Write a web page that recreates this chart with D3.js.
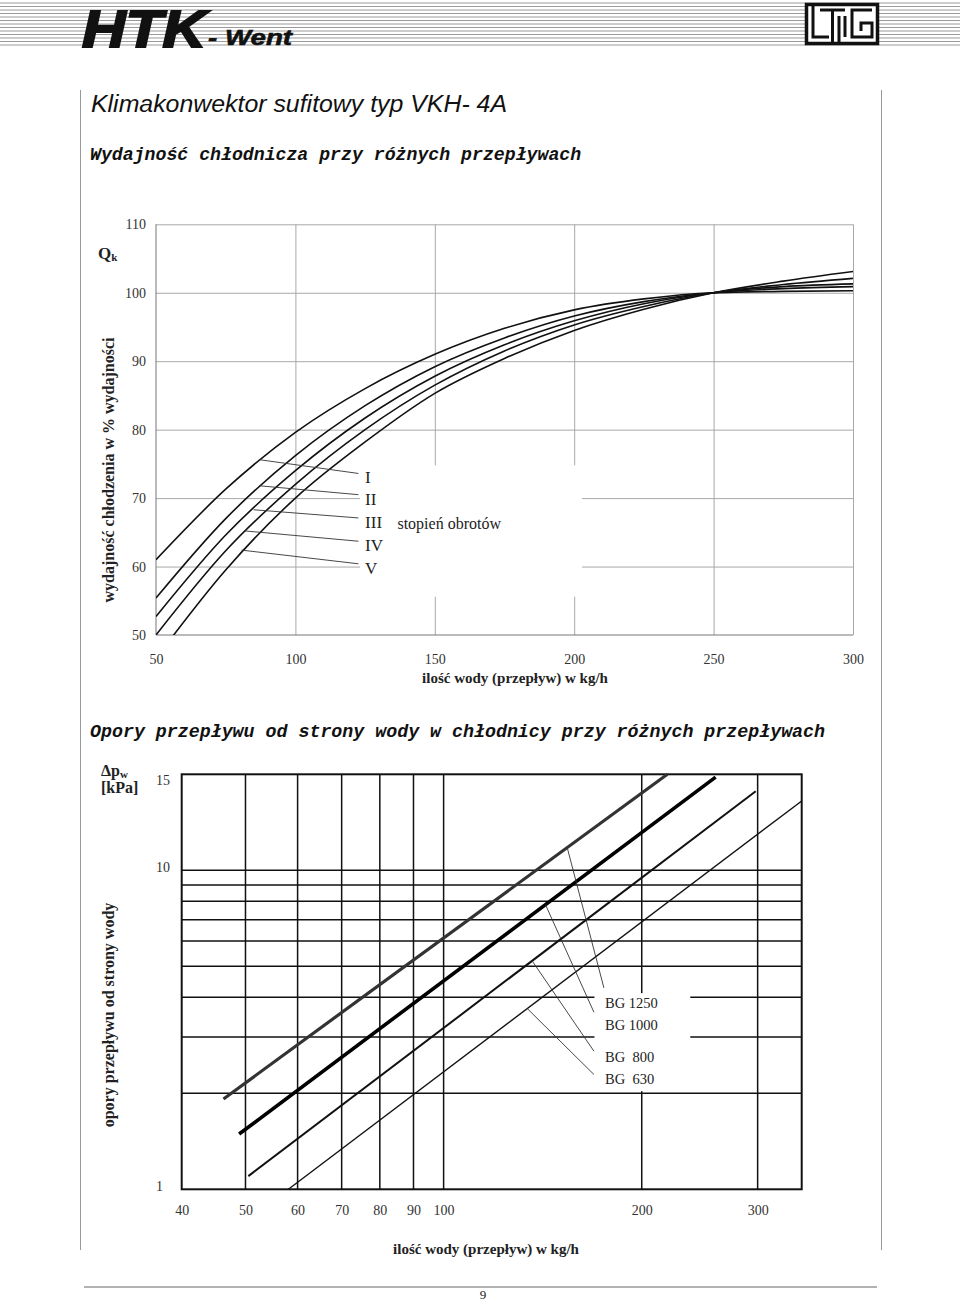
<!DOCTYPE html>
<html><head><meta charset="utf-8">
<script src="https://cdn.jsdelivr.net/npm/d3@7"></script>
<style>body{margin:0;background:#fff}svg{display:block}</style>
</head><body>
<svg id="c" width="960" height="1302"></svg>
<script>
// ---------- DATA: top chart (cooling capacity vs water flow) ----------
const flowTop = [50, 75, 100, 125, 150, 175, 200, 225, 250, 275, 300];
const speedNames = ["I", "II", "III", "IV", "V"];
const capI   = [61.0, 71.3, 79.6, 86.0, 91.0, 94.8, 97.5, 99.1, 100, 100.2, 100.3];
const capII  = [55.4, 67.0, 76.2, 83.5, 89.2, 93.4, 96.6, 98.7, 100, 100.6, 100.9];
const capIII = [52.7, 64.6, 74.0, 81.7, 87.8, 92.4, 95.9, 98.4, 100, 100.9, 101.3];
const capIV  = [50.0, 62.3, 72.0, 80.0, 86.5, 91.5, 95.3, 98.0, 100, 101.2, 102.1];
const capV   = [46.6, 59.5, 70.0, 78.2, 85.3, 90.4, 94.5, 97.6, 100, 101.7, 103.1];
const topXTicks = [50, 100, 150, 200, 250, 300];
const topYTicks = [50, 60, 70, 80, 90, 100, 110];
// annotation leader anchors (flow, capacity) on each curve
const speedAnchorFlow = [87.3, 87.0, 85.0, 82.0, 80.7];
const speedAnchorCap  = [75.6, 71.8, 68.3, 65.2, 62.4];
const speedLeaderEndCap = [73.6, 70.5, 67.1, 63.7, 60.4];

// ---------- DATA: bottom chart (pressure drop vs water flow, log-log) ----------
const bgNames = ["BG 1250", "BG 1000", "BG  800", "BG  630"];
const bgFlowStart = [46.3, 48.9, 50.5, 58.1];
const bgFlowEnd   = [218.8, 259.0, 298.0, 350.0];
const bgDpStart   = [1.92, 1.49, 1.10, 1.00];
const bgDpEnd     = [20.0, 19.6, 17.7, 16.5];
const bgLeaderFlow = [154.1, 142.8, 136.3, 134.0];
const botXTicks = [40, 50, 60, 70, 80, 90, 100, 200, 300];
const botYTickValues = [1, 10, 20];
const botYTickLabels = ["1", "10", "15"];
const botYGrid = [2, 3, 4, 5, 6, 7, 8, 9, 10];
const botXGrid = [50, 60, 70, 80, 90, 100, 200, 300];

// ---------- DRAWING ----------
const svg = d3.select("#c");
const SERIF = "'Liberation Serif','Times New Roman',serif";
const SANS = "'Liberation Sans',Arial,sans-serif";
const MONO = "'Liberation Mono','Courier New',monospace";

// header stripes
const stripes = d3.range(3, 48, 3.5);
svg.append("g").selectAll("line").data(stripes).join("line")
  .attr("x1", 0).attr("x2", 960).attr("y1", d => d).attr("y2", d => d)
  .attr("stroke", "#9a9a9a").attr("stroke-width", 1);

svg.append("text").attr("x", 82).attr("y", 47)
  .attr("font-family", SANS).attr("font-weight", 700).attr("font-style", "italic")
  .attr("font-size", 51).attr("textLength", 124).attr("lengthAdjust", "spacingAndGlyphs")
  .attr("fill", "#111").attr("stroke", "#111").attr("stroke-width", 2)
  .text("HTK");
svg.append("text").attr("x", 208).attr("y", 45)
  .attr("font-family", SANS).attr("font-weight", 700).attr("font-style", "italic")
  .attr("font-size", 22).attr("textLength", 84).attr("lengthAdjust", "spacingAndGlyphs")
  .attr("fill", "#111").attr("stroke", "#111").attr("stroke-width", 0.6)
  .text("- Went");

// logo (maze-like LTG)
const logo = svg.append("g");
logo.append("rect").attr("x", 806.5).attr("y", 4.5).attr("width", 71).attr("height", 39)
  .attr("fill", "#fff").attr("stroke", "#111").attr("stroke-width", 3.5);
const logoPaths = [
  "M813,4 V37 H829",
  "M820,10 H845",
  "M832.5,10 V44",
  "M839,16 V44",
  "M872,10 H852 V37 H872 V23 H861 V31",
  "M845,16 V37"
];
logo.selectAll("path").data(logoPaths).join("path").attr("d", d => d)
  .attr("fill", "none").attr("stroke", "#111").attr("stroke-width", 3);

// page frame
svg.append("line").attr("x1", 80.5).attr("x2", 80.5).attr("y1", 90).attr("y2", 1250).attr("stroke", "#999");
svg.append("line").attr("x1", 881.5).attr("x2", 881.5).attr("y1", 90).attr("y2", 1250).attr("stroke", "#999");
svg.append("line").attr("x1", 84).attr("x2", 877).attr("y1", 1287).attr("y2", 1287).attr("stroke", "#999").attr("stroke-width", 1.5);
svg.append("text").attr("x", 483).attr("y", 1299).attr("text-anchor", "middle")
  .attr("font-family", SERIF).attr("font-size", 13).attr("fill", "#222").text("9");

// titles
svg.append("text").attr("x", 91).attr("y", 112)
  .attr("font-family", "'Liberation Sans Narrow'," + SANS).attr("font-style", "italic")
  .attr("font-size", 23.5).attr("textLength", 416).attr("lengthAdjust", "spacingAndGlyphs")
  .attr("fill", "#111").text("Klimakonwektor sufitowy typ VKH- 4A");
svg.append("text").attr("x", 90).attr("y", 160)
  .attr("font-family", MONO).attr("font-style", "italic").attr("font-weight", 700)
  .attr("font-size", 18.2).attr("fill", "#111").text("Wydajność chłodnicza przy różnych przepływach");
svg.append("text").attr("x", 90).attr("y", 737)
  .attr("font-family", MONO).attr("font-style", "italic").attr("font-weight", 700)
  .attr("font-size", 18.3).attr("fill", "#111").text("Opory przepływu od strony wody w chłodnicy przy różnych przepływach");

// ---------- TOP CHART ----------
const xT = d3.scaleLinear().domain([50, 300]).range([156, 853]);
const yT = d3.scaleLinear().domain([50, 110]).range([635, 224.3]);
const gT = svg.append("g");

// grid
gT.append("g").attr("transform", `translate(0,${yT(50)})`)
  .call(d3.axisBottom(xT).tickValues(topXTicks.slice(1)).tickSize(-(yT(50) - yT(110))).tickFormat(""))
  .call(g => g.select(".domain").remove())
  .call(g => g.selectAll("line").attr("stroke", "#a8a8a8"));
gT.append("g").attr("transform", `translate(${xT(50)},0)`)
  .call(d3.axisLeft(yT).tickValues(topYTicks.slice(1)).tickSize(-(xT(300) - xT(50))).tickFormat(""))
  .call(g => g.select(".domain").remove())
  .call(g => g.selectAll("line").attr("stroke", "#a8a8a8"));
// axis lines
gT.append("line").attr("x1", xT(50)).attr("x2", xT(50)).attr("y1", yT(110)).attr("y2", yT(50)).attr("stroke", "#777");
gT.append("line").attr("x1", xT(50)).attr("x2", xT(300)).attr("y1", yT(50)).attr("y2", yT(50)).attr("stroke", "#777");

// tick labels
gT.append("g").attr("transform", `translate(0,${yT(50)})`)
  .call(d3.axisBottom(xT).tickValues(topXTicks).tickSize(0).tickPadding(19))
  .call(g => g.select(".domain").remove())
  .call(g => g.selectAll("text").attr("font-family", SERIF).attr("font-size", 14).attr("fill", "#333"));
gT.append("g").attr("transform", `translate(${xT(50)},0)`)
  .call(d3.axisLeft(yT).tickValues(topYTicks).tickSize(0).tickPadding(10))
  .call(g => g.select(".domain").remove())
  .call(g => g.selectAll("text").attr("font-family", SERIF).attr("font-size", 14).attr("fill", "#333"));

// legend box (white area in grid)
gT.append("rect").attr("x", xT(123.2)).attr("y", yT(74.8))
  .attr("width", xT(202.8) - xT(123.2)).attr("height", yT(55.6) - yT(74.8)).attr("fill", "#fff");

// curves
svg.append("clipPath").attr("id", "clipT").append("rect")
  .attr("x", xT(50)).attr("y", yT(110)).attr("width", xT(300) - xT(50)).attr("height", yT(50) - yT(110));
const capSeries = [capI, capII, capIII, capIV, capV];
const lineT = d3.line().x((d, i) => xT(flowTop[i])).y(d => yT(d)).curve(d3.curveMonotoneX);
gT.append("g").attr("clip-path", "url(#clipT)").selectAll("path").data(capSeries).join("path")
  .attr("d", d => lineT(d)).attr("fill", "none").attr("stroke", "#111").attr("stroke-width", 1.6);

// leaders and labels
speedNames.forEach((n, i) => {
  gT.append("line").attr("x1", xT(speedAnchorFlow[i])).attr("y1", yT(speedAnchorCap[i]))
    .attr("x2", xT(122.6)).attr("y2", yT(speedLeaderEndCap[i])).attr("stroke", "#333").attr("stroke-width", 0.9);
  gT.append("text").attr("x", xT(125)).attr("y", yT(speedLeaderEndCap[i]) + 10)
    .attr("font-family", SERIF).attr("font-size", 17).attr("fill", "#222").text(n);
});
gT.append("text").attr("x", xT(136.6)).attr("y", yT(66.4) + 6)
  .attr("font-family", SERIF).attr("font-size", 16).attr("fill", "#222").text("stopień obrotów");

// axis titles
gT.append("text").attr("x", 98).attr("y", 259).attr("font-family", SERIF).attr("font-weight", 700)
  .attr("font-size", 17).attr("fill", "#222")
  .call(t => { t.append("tspan").text("Q"); t.append("tspan").attr("font-size", 11).attr("dy", 2).text("k"); });
gT.append("text").attr("transform", "translate(114,470) rotate(-90)").attr("text-anchor", "middle")
  .attr("font-family", SERIF).attr("font-weight", 700).attr("font-size", 16).attr("fill", "#222")
  .text("wydajność chłodzenia w % wydajności");
gT.append("text").attr("x", 515).attr("y", 683).attr("text-anchor", "middle")
  .attr("font-family", SERIF).attr("font-weight", 700).attr("font-size", 15).attr("fill", "#222")
  .text("ilość wody (przepływ) w kg/h");

// ---------- BOTTOM CHART ----------
const xB = d3.scaleLog().domain([40, 350]).range([181.7, 801.7]);
const yB = d3.scaleLog().domain([1, 20]).range([1189.3, 774.3]);
const gB = svg.append("g");

gB.append("g").selectAll("line").data(botXGrid).join("line")
  .attr("x1", d => xB(d)).attr("x2", d => xB(d)).attr("y1", yB(20)).attr("y2", yB(1))
  .attr("stroke", "#111").attr("stroke-width", 1.5);
gB.append("g").selectAll("line").data(botYGrid).join("line")
  .attr("x1", xB(40)).attr("x2", xB(350)).attr("y1", d => yB(d)).attr("y2", d => yB(d))
  .attr("stroke", "#111").attr("stroke-width", 1.5);
gB.append("rect").attr("x", xB(40)).attr("y", yB(20)).attr("width", xB(350) - xB(40)).attr("height", yB(1) - yB(20))
  .attr("fill", "none").attr("stroke", "#111").attr("stroke-width", 2);

// legend white box
gB.append("rect").attr("x", xB(169.5)).attr("y", yB(4.12))
  .attr("width", xB(237) - xB(169.5)).attr("height", yB(2.03) - yB(4.12)).attr("fill", "#fff");

// BG lines
const bgWidths = [3.2, 3.6, 2, 1.4];
const bgColors = ["#333", "#000", "#111", "#111"];
const lineB = d3.line().x(d => xB(d[0])).y(d => yB(d[1]));
bgNames.forEach((n, i) => {
  gB.append("path").attr("d", lineB([[bgFlowStart[i], bgDpStart[i]], [bgFlowEnd[i], bgDpEnd[i]]]))
    .attr("fill", "none").attr("stroke", bgColors[i]).attr("stroke-width", bgWidths[i]);
});

// leaders + labels
const bgLabelDp = [4.28, 3.59, 2.71, 2.29];
const bgLabelCenterY = [1002.7, 1025, 1056.7, 1079];
bgNames.forEach((n, i) => {
  const k = Math.log(bgDpEnd[i] / bgDpStart[i]) / Math.log(bgFlowEnd[i] / bgFlowStart[i]);
  const dpOnLine = bgDpStart[i] * Math.pow(bgLeaderFlow[i] / bgFlowStart[i], k);
  gB.append("line").attr("x1", xB(bgLeaderFlow[i])).attr("y1", yB(dpOnLine))
    .attr("x2", xB(i < 1 ? 175.2 : 169.2)).attr("y2", yB(bgLabelDp[i]))
    .attr("stroke", "#333").attr("stroke-width", 0.9);
  gB.append("text").attr("x", 605).attr("y", bgLabelCenterY[i] + 5)
    .attr("font-family", SERIF).attr("font-size", 14.5).attr("fill", "#222")
    .attr("xml:space", "preserve").style("white-space", "pre").text(n);
});

// tick labels
gB.append("g").attr("transform", `translate(0,${yB(1)})`)
  .call(d3.axisBottom(xB).tickValues(botXTicks).tickFormat(d3.format("d")).tickSize(0).tickPadding(15.5))
  .call(g => g.select(".domain").remove())
  .call(g => g.selectAll("text").attr("font-family", SERIF).attr("font-size", 14).attr("fill", "#333"));
gB.append("g").attr("transform", `translate(${xB(40)},0)`)
  .call(d3.axisLeft(yB).tickValues(botYTickValues).tickFormat((d, i) => botYTickLabels[i]).tickSize(0))
  .call(g => g.select(".domain").remove())
  .call(g => g.selectAll("text").attr("x", 156 - xB(40)).attr("text-anchor", "start")
    .attr("dy", (d, i) => i === 0 ? "0.05em" : (i === 2 ? "0.7em" : "0.1em"))
    .attr("font-family", SERIF).attr("font-size", 14).attr("fill", "#333"));

// titles
gB.append("text").attr("x", 101).attr("y", 776).attr("font-family", SERIF).attr("font-weight", 700)
  .attr("font-size", 16).attr("fill", "#222")
  .call(t => { t.append("tspan").text("Δp"); t.append("tspan").attr("font-size", 11).attr("dy", 2).text("w"); });
gB.append("text").attr("x", 101).attr("y", 793).attr("font-family", SERIF).attr("font-weight", 700)
  .attr("font-size", 16).attr("fill", "#222").text("[kPa]");
gB.append("text").attr("transform", "translate(114,1015) rotate(-90)").attr("text-anchor", "middle")
  .attr("font-family", SERIF).attr("font-weight", 700).attr("font-size", 16).attr("fill", "#222")
  .text("opory przepływu od strony wody");
gB.append("text").attr("x", 486).attr("y", 1254).attr("text-anchor", "middle")
  .attr("font-family", SERIF).attr("font-weight", 700).attr("font-size", 15).attr("fill", "#222")
  .text("ilość wody (przepływ) w kg/h");
</script>
</body></html>
